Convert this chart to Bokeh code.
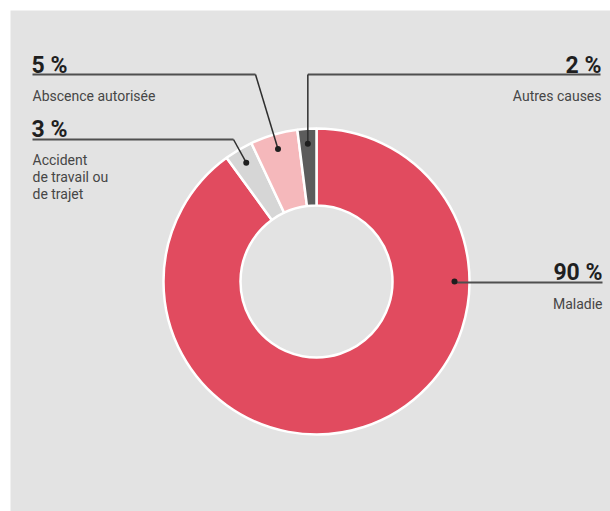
import numpy as np
from bokeh.plotting import figure
from bokeh.models import Range1d, ColumnDataSource
from bokeh.core.properties import value
from bokeh.embed import file_html
from bokeh.resources import INLINE

# ---- data ----
categories = ["Maladie", "Accident de travail ou de trajet", "Abscence autorisée", "Autres causes"]
values = [90, 3, 5, 2]
pct_labels = ["90 %", "3 %", "5 %", "2 %"]
label_lines = [["Maladie"], ["Accident", "de travail ou", "de trajet"], ["Abscence autorisée"], ["Autres causes"]]
colors = ["#e14b5f", "#d6d6d6", "#f5b8bb", "#5c5c5c"]

# ---- layout (screen pixels of the page) ----
BG = "#e3e3e3"
W, H = 610, 511


def Y(sy):
    return 511 - sy


CX, CY = 316, Y(281)
R_OUT, R_IN, R_DOT = 153, 76, 138

p = figure(width=W, height=H, x_range=Range1d(10, 610), y_range=Range1d(Y(511), Y(10)),
           x_axis_type=None, y_axis_type=None, toolbar_location=None, output_backend="svg",
           min_border_left=10, min_border_top=10, min_border_right=0, min_border_bottom=0,
           background_fill_color=BG, border_fill_color="white", outline_line_color=None)
p.grid.visible = False

fr = np.array(values, dtype=float) / sum(values)
cum = np.concatenate([[0.0], np.cumsum(fr)])
start = np.pi / 2 - 2 * np.pi * cum[:-1]
end = np.pi / 2 - 2 * np.pi * cum[1:]
src = ColumnDataSource(dict(start=start, end=end, color=colors, cat=categories))
p.annular_wedge(x=CX, y=CY, inner_radius=R_IN, outer_radius=R_OUT, start_angle="start",
                end_angle="end", direction="clock", fill_color="color", line_color="white",
                line_width=2.5, source=src)

# dot angles: middle of each small slice, east side for the large one
mid = (start + end) / 2
dot_ang = mid.copy()
dot_ang[0] = 0.0
dot_x = CX + R_DOT * np.cos(dot_ang)
dot_y = CY + R_DOT * np.sin(dot_ang)

# label layout per category
align = ["right", "left", "left", "right"]
text_x = [602, 31, 31, 601]
pct_base = [272, 129, 65, 65]
line_y = [282, 139, 74, 74]
line_far = [602, 32, 32, 600]
elbow_x = [None, 233, 255, None]
sub_base = [303, 159, 95, 95]
LH = 17

FONT = value("Roboto")
for i in range(len(values)):
    ex = dot_x[i] if elbow_x[i] is None else elbow_x[i]
    xs = [line_far[i], ex]
    ys = [Y(line_y[i]), Y(line_y[i])]
    p.line(xs, ys, line_color="#4f4f4f", line_width=2)
    p.line([ex, dot_x[i]], [Y(line_y[i]), dot_y[i]], line_color="#2e2e2e", line_width=1.5)
    p.text(x=[text_x[i]], y=[Y(pct_base[i])], text=[pct_labels[i]], text_font=FONT,
           text_font_style="bold", text_font_size="23px", text_color="#1f1f1f",
           text_align=align[i], text_baseline="alphabetic")
    for j, ln in enumerate(label_lines[i]):
        p.text(x=[text_x[i] + (1 if align[i] == "left" else 0)], y=[Y(sub_base[i] + j * LH)],
               text=[ln], text_font=FONT, text_font_size="14px", text_color="#464646",
               text_align=align[i], text_baseline="alphabetic")

p.scatter(dot_x, dot_y, size=6, fill_color="#1e1e1e", line_color=None)

open("out.html", "w").write(file_html(p, INLINE))
